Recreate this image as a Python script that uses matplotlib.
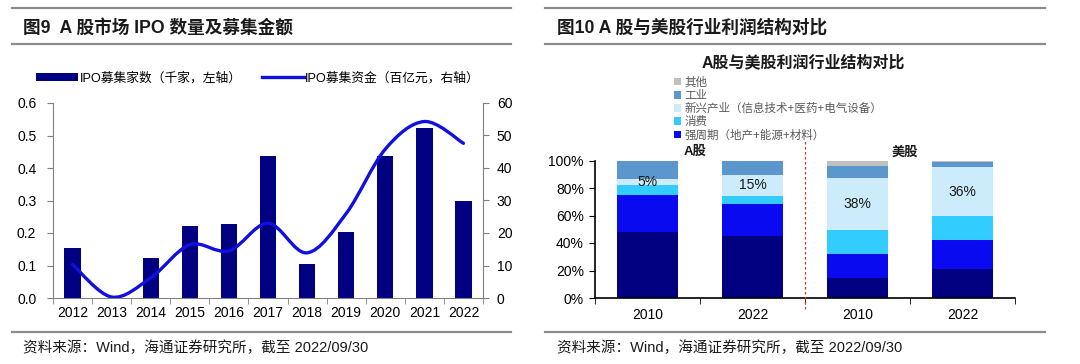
import matplotlib
matplotlib.use("Agg")
import matplotlib.pyplot as plt
from matplotlib.path import Path
from matplotlib.patches import PathPatch, Patch
from matplotlib.lines import Line2D
import numpy as np

plt.rcParams['font.family'] = ['Liberation Sans', 'Noto Sans CJK SC', 'DejaVu Sans']

# ---------------- data: left chart ----------------
years = ['2012', '2013', '2014', '2015', '2016', '2017', '2018', '2019', '2020', '2021', '2022']
ipo_count = [0.153, 0.0, 0.124, 0.221, 0.228, 0.437, 0.106, 0.203, 0.436, 0.524, 0.298]   # 千家
ipo_funds = [10.3, 0.3, 6.2, 16.4, 14.5, 23.0, 13.9, 26.0, 45.8, 54.3, 47.6]              # 百亿元
left_yticks = [0.0, 0.1, 0.2, 0.3, 0.4, 0.5, 0.6]
right_yticks = [0, 10, 20, 30, 40, 50, 60]

# ---------------- data: right chart ----------------
groups = ['2010', '2022', '2010', '2022']
seg_names = ['金融', '强周期（地产+能源+材料）', '消费', '新兴产业（信息技术+医药+电气设备）', '工业', '其他']
seg_finance = [48.0, 45.3, 14.8, 21.0]
seg_cyclical = [26.7, 23.2, 17.2, 21.4]
seg_consumer = [7.2, 5.8, 17.6, 16.9]
seg_emerging = [5.0, 15.3, 38.0, 36.0]
seg_industry = [12.5, 9.7, 8.7, 3.5]
seg_other = [0.6, 0.7, 3.7, 1.2]
emerging_labels = ['5%', '15%', '38%', '36%']
pct_ticks = [0, 20, 40, 60, 80, 100]

W, H = 1080, 364
fig = plt.figure(figsize=(W / 100, H / 100), dpi=100)
fig.patch.set_facecolor('white')


def fx(px):
    return px / W


def fy(py):
    return 1 - py / H


# ---------- frame rules and titles ----------
for x0, x1 in [(12, 511), (545, 1045)]:
    for yy in [8, 44, 332]:
        fig.add_artist(Line2D([fx(x0), fx(x1)], [fy(yy), fy(yy)], color='#8c8c8c', lw=1.6))

fig.text(fx(23), fy(28), '图9  A 股市场 IPO 数量及募集金额', fontsize=12.7, fontweight='bold',
         ha='left', va='center', color='#1a1a1a')
fig.text(fx(557), fy(28), '图10 A 股与美股行业利润结构对比', fontsize=12.7, fontweight='bold',
         ha='left', va='center', color='#1a1a1a')
fig.text(fx(23), fy(348), '资料来源：Wind，海通证券研究所，截至 2022/09/30', fontsize=10.5,
         ha='left', va='center', color='#1a1a1a')
fig.text(fx(557), fy(348), '资料来源：Wind，海通证券研究所，截至 2022/09/30', fontsize=10.5,
         ha='left', va='center', color='#1a1a1a')

# ---------- left chart ----------
axL = fig.add_axes([fx(53), fy(298), fx(483 - 53), (298 - 103) / H])
x = np.arange(len(years))
axL.bar(x, ipo_count, width=0.42, color='#000080', zorder=2)
axL.set_xlim(-0.5, len(years) - 0.5)
axL.set_ylim(0, 0.6)
axL.set_yticks(left_yticks)
axL.set_yticklabels([f'{v:.1f}' for v in left_yticks], fontsize=10)
axL.set_xticks(x)
axL.set_xticklabels(years, fontsize=10)
axL.set_xticks(np.arange(-0.5, len(years), 1), minor=True)
axL.tick_params(axis='x', which='major', length=0, pad=6)
axL.tick_params(axis='x', which='minor', length=4, color='#808080', direction='out')
axL.tick_params(axis='y', length=4, color='#808080', pad=8)
for s in ['top', 'right']:
    axL.spines[s].set_visible(False)
for s in ['left', 'bottom']:
    axL.spines[s].set_color('#808080')

axR = axL.twinx()
axR.set_ylim(0, 60)
axR.set_yticks(right_yticks)
axR.set_yticklabels([str(v) for v in right_yticks], fontsize=10)
axR.tick_params(axis='y', length=4, color='#808080', pad=6)
for s in ['top', 'left', 'bottom']:
    axR.spines[s].set_visible(False)
axR.spines['right'].set_color('#808080')


def smooth_path(xs, ys, t=1 / 6):
    xs = np.asarray(xs, float)
    ys = np.asarray(ys, float)
    n = len(xs)
    verts = [(xs[0], ys[0])]
    codes = [Path.MOVETO]
    for i in range(n - 1):
        p0 = (xs[max(i - 1, 0)], ys[max(i - 1, 0)])
        p1 = (xs[i], ys[i])
        p2 = (xs[i + 1], ys[i + 1])
        p3 = (xs[min(i + 2, n - 1)], ys[min(i + 2, n - 1)])
        c1 = (p1[0] + (p2[0] - p0[0]) * t, p1[1] + (p2[1] - p0[1]) * t)
        c2 = (p2[0] - (p3[0] - p1[0]) * t, p2[1] - (p3[1] - p1[1]) * t)
        verts += [c1, c2, p2]
        codes += [Path.CURVE4] * 3
    return Path(verts, codes)


axR.add_patch(PathPatch(smooth_path(x, ipo_funds), facecolor='none', edgecolor='#1010E0',
                        lw=2.4, zorder=3, capstyle='round'))

handles = [Patch(facecolor='#000080', edgecolor='none'),
           Line2D([], [], color='#1010E0', lw=2.4)]
fig.legend(handles, ['IPO募集家数（千家，左轴）', 'IPO募集资金（百亿元，右轴）'],
           loc='center', bbox_to_anchor=(fx(258), fy(78)), ncol=2, frameon=False,
           fontsize=9.2, handlelength=3.3, handleheight=0.55, handletextpad=0.1,
           columnspacing=1.6)

# ---------- right chart ----------
ax2 = fig.add_axes([fx(595), fy(298), fx(1015 - 595), (298 - 160.5) / H])
g = np.arange(len(groups))
colors = ['#000080', '#0A0AF0', '#33CCFF', '#CCEBFB', '#5B96CD', '#C0C0C0']
segs = [seg_finance, seg_cyclical, seg_consumer, seg_emerging, seg_industry, seg_other]
bottom = np.zeros(len(groups))
for vals, c in zip(segs, colors):
    ax2.bar(g, vals, bottom=bottom, width=0.58, color=c, edgecolor='none', zorder=2)
    if vals is seg_emerging:
        for xi, bt, v, lab in zip(g, bottom, vals, emerging_labels):
            ax2.text(xi, bt + v / 2, lab, ha='center', va='center', fontsize=10, color='#1a1a1a', zorder=4)
    bottom = bottom + np.asarray(vals)

ax2.set_xlim(-0.5, len(groups) - 0.5)
ax2.set_ylim(0, 100)
ax2.set_yticks(pct_ticks)
ax2.set_yticklabels([f'{v}%' for v in pct_ticks], fontsize=10)
ax2.set_xticks(g)
ax2.set_xticklabels(groups, fontsize=10)
ax2.set_xticks(np.arange(-0.5, len(groups), 1), minor=True)
ax2.tick_params(axis='x', which='major', length=0, pad=7)
ax2.tick_params(axis='x', which='minor', length=4, color='black', direction='out')
ax2.tick_params(axis='y', length=4, color='black', pad=4)
for s in ['top', 'right']:
    ax2.spines[s].set_visible(False)
ax2.spines['left'].set_linewidth(1.2)
ax2.spines['bottom'].set_linewidth(1.2)

ax2.plot([1.5, 1.5], [-0.08, 1.15], transform=ax2.get_xaxis_transform(), color='#E03030',
         lw=0.9, ls=(0, (2, 2)), clip_on=False, zorder=5)
ax2.text(0.45, 1.06, 'A股', transform=ax2.get_xaxis_transform(), ha='center', va='center',
         fontsize=9.5, fontweight='bold', color='#1a1a1a')
ax2.text(2.45, 1.06, '美股', transform=ax2.get_xaxis_transform(), ha='center', va='center',
         fontsize=9.5, fontweight='bold', color='#1a1a1a')

fig.text(fx(803), fy(62), 'A股与美股利润行业结构对比', fontsize=11.5, fontweight='bold',
         ha='center', va='center', color='#1a1a1a')

leg_order = [5, 4, 3, 2, 1]
fig.legend([Patch(facecolor=colors[i], edgecolor='none') for i in leg_order],
           [seg_names[i] for i in leg_order],
           loc='upper left', bbox_to_anchor=(fx(668), fy(71)), frameon=False,
           fontsize=8.3, handlelength=0.6, handleheight=0.6, handletextpad=0.3,
           labelspacing=0.1, borderpad=0, labelcolor='#595959')

fig.savefig('out.png', dpi=100, facecolor='white')
